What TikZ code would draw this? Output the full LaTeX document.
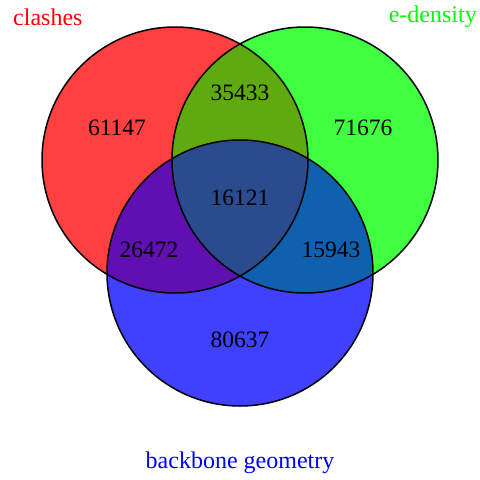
\documentclass[tikz,border=0pt]{standalone}
\usepackage{fontspec}
\setmainfont{Liberation Serif}
\definecolor{cR}{HTML}{FF4040}
\definecolor{cG}{HTML}{40FF40}
\definecolor{cB}{HTML}{4040FF}
\definecolor{cRG}{HTML}{5FAA10}
\definecolor{cRB}{HTML}{6010B0}
\definecolor{cGB}{HTML}{1060B0}
\definecolor{cRGB}{HTML}{2A4C8F}
\begin{document}
\begin{tikzpicture}[x=1pt,y=-1pt,
  num/.style={font=\fontsize{23.5}{26}\selectfont, text=black, inner sep=0pt},
  lab/.style={font=\fontsize{24}{26}\selectfont, inner sep=0pt},
  ring/.style={draw=black, line width=1.5pt}]
\useasboundingbox (0,0) rectangle (480,480);
\def\R{133}
\coordinate (cr) at (175,160);
\coordinate (cg) at (305,160);
\coordinate (cb) at (240,273);
% single fills
\fill[cR] (cr) circle (\R);
\fill[cG] (cg) circle (\R);
\fill[cB] (cb) circle (\R);
% pair overlaps
\begin{scope}\clip (cr) circle (\R); \fill[cRG] (cg) circle (\R); \end{scope}
\begin{scope}\clip (cr) circle (\R); \fill[cRB] (cb) circle (\R); \end{scope}
\begin{scope}\clip (cg) circle (\R); \fill[cGB] (cb) circle (\R); \end{scope}
\begin{scope}\clip (cr) circle (\R); \clip (cg) circle (\R); \fill[cRGB] (cb) circle (\R); \end{scope}
% outlines
\draw[ring] (cr) circle (\R);
\draw[ring] (cg) circle (\R);
\draw[ring] (cb) circle (\R);
% numbers
\node[num] (n1) at (117,128) {61147};
\node[num] (n2) at (240,93) {35433};
\node[num] (n3) at (363,128) {71676};
\node[num] (n4) at (240,198) {16121};
\node[num] (n5) at (149,250) {26472};
\node[num] (n6) at (331,250) {15943};
\node[num] (n7) at (240,340) {80637};
% labels
\node[lab, text=red, anchor=west] (lr) at (13,17) {clashes};
\node[lab, text={rgb,255:red,0;green,255;blue,0}, anchor=east] (lg) at (477,17) {e-density};
\node[lab, text=blue] (lb) at (240,463) {backbone geometry};
\end{tikzpicture}
\end{document}
